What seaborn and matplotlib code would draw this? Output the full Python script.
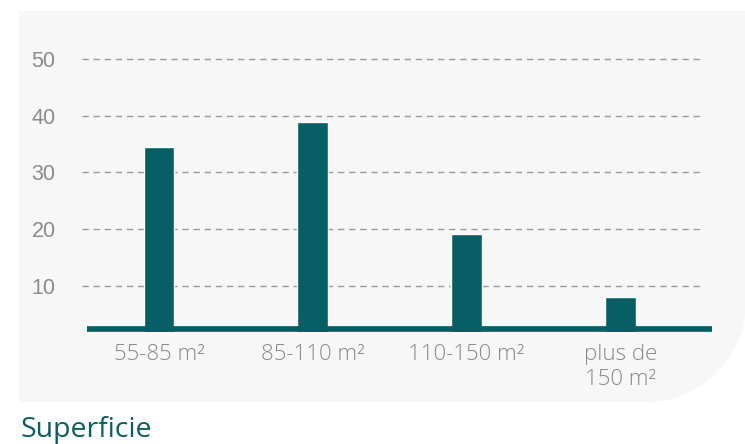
import numpy as np
import matplotlib
matplotlib.use("Agg")
import matplotlib.pyplot as plt
import matplotlib.transforms as mtransforms
from matplotlib.path import Path
from matplotlib.patches import PathPatch
import seaborn as sns

# data
categories = ["55-85 m²", "85-110 m²", "110-150 m²", "plus de\n150 m²"]
values = [34.5, 38.8, 19.1, 8.1]
yticks = [10, 20, 30, 40, 50]

teal = "#075e65"
grey_txt = "#8a8a8a"
panel = "#f7f7f7"

W, H = 745, 444
sns.set_style("white")
plt.rcParams["font.family"] = ["Open Sans", "DejaVu Sans"]

fig = plt.figure(figsize=(W / 100, H / 100), dpi=100)
fig.patch.set_facecolor("white")


def px(x, y):
    return (x / W, 1 - y / H)


# light panel with the big rounded bottom-right corner
cx, cy, r = 646, 302, 100
pts = [px(19, 11), px(770, 11), px(770, cy)]
for a in np.linspace(0, np.pi / 2, 40):
    pts.append(px(cx + r * np.cos(a), cy + r * np.sin(a)))
pts += [px(19, 402), px(19, 11)]
codes = [Path.MOVETO] + [Path.LINETO] * (len(pts) - 2) + [Path.CLOSEPOLY]
fig.patches.append(PathPatch(Path(pts, codes), transform=fig.transFigure,
                             facecolor=panel, edgecolor="none", zorder=-10))

ax = fig.add_axes([82 / W, 1 - 331.7 / H, 630 / W, (331.7 - 53.3) / H])
ax.set_facecolor("none")

sns.barplot(x=categories, y=values, color=teal, saturation=1, width=0.2,
            ax=ax, zorder=3)

ax.set_xlim(-0.5, 3.595)
ax.set_ylim(1.9, 51)

for v in yticks:
    ax.axhline(v, xmin=0, xmax=0.986, color="#9a9a9a", lw=1.0,
               ls=(0, (4.5, 3.5)), zorder=1)
ax.axhline(2.4, xmin=0.008, xmax=1, color=teal, lw=4.1, zorder=4,
           clip_on=False, solid_capstyle="butt")

ax.set_yticks(yticks)
ax.set_yticklabels([str(v) for v in yticks], fontfamily="Liberation Sans",
                   fontsize=15.5, color="#8c8c8c")
off = mtransforms.ScaledTranslation(0, 0.055, fig.dpi_scale_trans)
for lab in ax.get_yticklabels():
    lab.set_transform(lab.get_transform() + off)
ax.tick_params(axis="y", length=0, pad=19)
ax.tick_params(axis="x", length=0, pad=9)
for lab in ax.get_xticklabels():
    lab.set_fontsize(16)
    lab.set_fontweight("light")
    lab.set_color(grey_txt)
    lab.set_linespacing(1.25)

ax.set_xlabel("")
ax.set_ylabel("")
for s in ax.spines.values():
    s.set_visible(False)

fig.text(20 / W, 1 - 437 / H, "Superficie", fontsize=20.5, color=teal,
         fontweight="medium", ha="left", va="baseline")

fig.savefig("out.png", dpi=100, facecolor="white")
